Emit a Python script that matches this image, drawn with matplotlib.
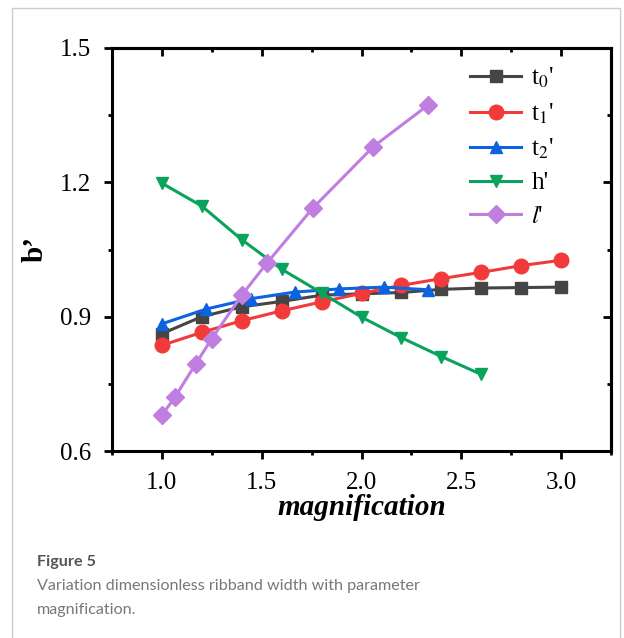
'''
Ribband width vs magnification (Figure 5 recreation)
'''
from matplotlib import pyplot as plt
from matplotlib.patches import Rectangle
from matplotlib.ticker import MultipleLocator

plt.rcParams['font.family'] = ['Liberation Serif', 'DejaVu Serif']
plt.rcParams['mathtext.fontset'] = 'stix'

# data
mag = [1.0, 1.2, 1.4, 1.6, 1.8, 2.0, 2.2, 2.4, 2.6, 2.8, 3.0]
t0 = [0.862, 0.900, 0.922, 0.934, 0.948, 0.951, 0.954, 0.961, 0.964, 0.965, 0.966]
t1 = [0.836, 0.865, 0.891, 0.913, 0.933, 0.952, 0.970, 0.985, 0.999, 1.014, 1.026]

mag_t2 = [1.0, 1.222, 1.444, 1.667, 1.889, 2.111, 2.333]
t2 = [0.884, 0.917, 0.940, 0.955, 0.962, 0.966, 0.960]

mag_h = [1.0, 1.2, 1.4, 1.6, 1.8, 2.0, 2.2, 2.4, 2.6]
h = [1.198, 1.147, 1.072, 1.006, 0.953, 0.899, 0.853, 0.811, 0.771]

mag_l = [1.0, 1.065, 1.17, 1.25, 1.4, 1.525, 1.755, 2.06, 2.335]
l = [0.680, 0.720, 0.795, 0.851, 0.948, 1.019, 1.142, 1.280, 1.373]

xticks = [1.0, 1.5, 2.0, 2.5, 3.0]
yticks = [0.6, 0.9, 1.2, 1.5]

fig = plt.figure(figsize=(6.24, 6.38), dpi=100)
ax = fig.add_axes([112 / 624, 1 - 451 / 638, 499 / 624, 403 / 638])

style = dict(lw=2.2, ms=9, clip_on=False, zorder=3)
ax.plot(mag, t0, color='#454545', marker='s', label="t$_0$'", **style)
ax.plot(mag, t1, color='#f23a3a', marker='o', ms=10.5, lw=2.2, clip_on=False, zorder=3, label="t$_1$'")
ax.plot(mag_t2, t2, color='#0d62e0', marker='^', label="t$_2$'", **style)
ax.plot(mag_h, h, color='#0aa35c', marker='v', label="h'", **style)
ax.plot(mag_l, l, color='#c07ee0', marker='D', label="$l$'", **style)

ax.set_xlim(0.75, 3.25)
ax.set_ylim(0.6, 1.5)
ax.set_xticks(xticks)
ax.set_yticks(yticks)
ax.set_xticklabels([f'{v:.1f}' for v in xticks])
ax.set_yticklabels([f'{v:.1f}' for v in yticks])
ax.xaxis.set_minor_locator(MultipleLocator(0.25))
ax.yaxis.set_minor_locator(MultipleLocator(0.15))

for s in ax.spines.values():
    s.set_linewidth(2.2)

ax.tick_params(which='both', width=2.0, labelsize=18, colors='black')
ax.tick_params(which='major', length=6)
ax.tick_params(which='minor', length=3)
ax.tick_params(axis='x', which='both', direction='out', top=False, pad=9)
ax.tick_params(axis='y', which='both', direction='out', right=False, pad=9)

# inward ticks on top and right, like Origin
top = ax.secondary_xaxis('top')
top.set_xticks(xticks)
top.xaxis.set_minor_locator(MultipleLocator(0.25))
top.tick_params(which='both', direction='in', width=2.0, labeltop=False)
top.tick_params(which='major', length=6)
top.tick_params(which='minor', length=3)
top.spines['top'].set_linewidth(2.2)
right = ax.secondary_yaxis('right')
right.set_yticks(yticks)
right.yaxis.set_minor_locator(MultipleLocator(0.15))
right.tick_params(which='both', direction='in', width=2.0, labelright=False)
right.tick_params(which='major', length=6)
right.tick_params(which='minor', length=3)
right.spines['right'].set_linewidth(2.2)

ax.set_xlabel('magnification', fontsize=21, fontweight='bold', fontstyle='italic', labelpad=0)
ax.set_ylabel('b\u2019', fontsize=21, fontweight='bold', labelpad=8)

ax.legend(loc='upper left', bbox_to_anchor=(470 / 624, 1 - 66 / 638),
          bbox_transform=fig.transFigure, frameon=False, fontsize=18,
          handlelength=2.05, handletextpad=0.4, labelspacing=0.44,
          borderpad=0, borderaxespad=0)

# caption below the chart
fig.text(37 / 624, 1 - 566 / 638, 'Figure 5', family='Lato', fontweight='bold',
         fontsize=11.6, color='#555555', va='baseline')
fig.text(37 / 624, 1 - 590 / 638, 'Variation dimensionless ribband width with parameter',
         family='Lato', fontsize=11.6, color='#777777', va='baseline')
fig.text(37 / 624, 1 - 614 / 638, 'magnification.',
         family='Lato', fontsize=11.6, color='#777777', va='baseline')

fig.patches.append(Rectangle((12 / 624, -0.01), 608 / 624, 1 - 8 / 638 + 0.01,
                             transform=fig.transFigure, fill=False,
                             edgecolor='#cccccc', lw=1))

fig.savefig('out.png', dpi=100)
